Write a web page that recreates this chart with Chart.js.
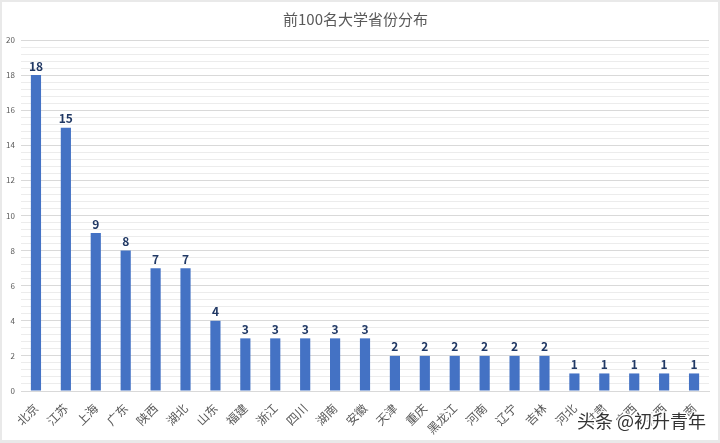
<!DOCTYPE html>
<html>
<head>
<meta charset="utf-8">
<script src="https://cdn.jsdelivr.net/npm/chart.js@4"></script>
<style>
  html, body { margin: 0; padding: 0; background: #e9e9e9; }
  .wrap { position: absolute; left: 2px; top: 2px; width: 716px; height: 438px; background: #fff; }
  canvas { display: block; }
</style>
</head>
<body>
<div class="wrap"><canvas id="chart" width="716" height="438"></canvas></div>
<script>
// ===== Data =====
const provinces = ["北京", "江苏", "上海", "广东", "陕西", "湖北", "山东", "福建", "浙江", "四川", "湖南", "安徽",
  "天津", "重庆", "黑龙江", "河南", "辽宁", "吉林", "河北", "甘肃", "广西", "江西", "云南"];
const counts = [18, 15, 9, 8, 7, 7, 4, 3, 3, 3, 3, 3, 2, 2, 2, 2, 2, 2, 1, 1, 1, 1, 1];
const yMax = 20;
const minorStep = 0.4;
const majorStep = 2;

const cjk = "'Noto Sans CJK SC', 'Noto Sans', sans-serif";

const isMajor = v => Math.abs(v / majorStep - Math.round(v / majorStep)) < 1e-6;

// ===== Value labels over the bars =====
const valueLabels = {
  id: "valueLabels",
  afterDatasetsDraw(chart) {
    const ctx = chart.ctx;
    const meta = chart.getDatasetMeta(0);
    ctx.save();
    ctx.fillStyle = "#203864";
    ctx.font = "600 12px " + cjk;
    ctx.textAlign = "center";
    ctx.textBaseline = "bottom";
    meta.data.forEach((bar, i) => {
      ctx.fillText(counts[i], bar.x, bar.y - 3);
    });
    ctx.restore();
  }
};

// ===== Watermark =====
const watermark = {
  id: "watermark",
  afterDraw(chart) {
    const ctx = chart.ctx;
    ctx.save();
    ctx.font = "18px " + cjk;
    ctx.textAlign = "right";
    ctx.textBaseline = "middle";
    ctx.lineWidth = 3;
    ctx.strokeStyle = "rgba(255,255,255,0.9)";
    ctx.strokeText("头条 @初升青年", 704, 419);
    ctx.fillStyle = "#333";
    ctx.fillText("头条 @初升青年", 704, 419);
    ctx.restore();
  }
};

new Chart(document.getElementById("chart"), {
  type: "bar",
  data: {
    labels: provinces,
    datasets: [{
      data: counts,
      backgroundColor: "#4472C4",
      categoryPercentage: 1,
      barPercentage: 0.34
    }]
  },
  options: {
    responsive: false,
    animation: false,
    layout: { padding: { left: 0, right: 9, top: 0, bottom: 0 } },
    plugins: {
      legend: { display: false },
      tooltip: { enabled: false },
      title: {
        display: true,
        text: "前100名大学省份分布",
        color: "#595959",
        font: { family: cjk, size: 15, weight: "normal" },
        padding: { top: 8, bottom: 12 }
      }
    },
    scales: {
      x: {
        grid: { display: false },
        border: { color: "#d9d9d9" },
        ticks: {
          color: "#595959",
          font: { family: cjk, size: 12 },
          minRotation: 45,
          maxRotation: 45,
          autoSkip: false,
          padding: 2
        },
        afterFit(scale) { scale.height = 49; }
      },
      y: {
        min: 0,
        max: yMax,
        border: { display: false },
        grid: {
          color: ctx => isMajor(ctx.tick.value) ? "#d9d9d9" : "#ececec",
          drawTicks: false
        },
        ticks: {
          stepSize: minorStep,
          maxTicksLimit: 100,
          autoSkip: false,
          color: "#595959",
          font: { family: cjk, size: 8 },
          padding: 6,
          callback: v => isMajor(v) ? Math.round(v) : ""
        },
        afterFit(scale) { scale.width = 19; }
      }
    }
  },
  plugins: [valueLabels, watermark]
});
</script>
</body>
</html>
